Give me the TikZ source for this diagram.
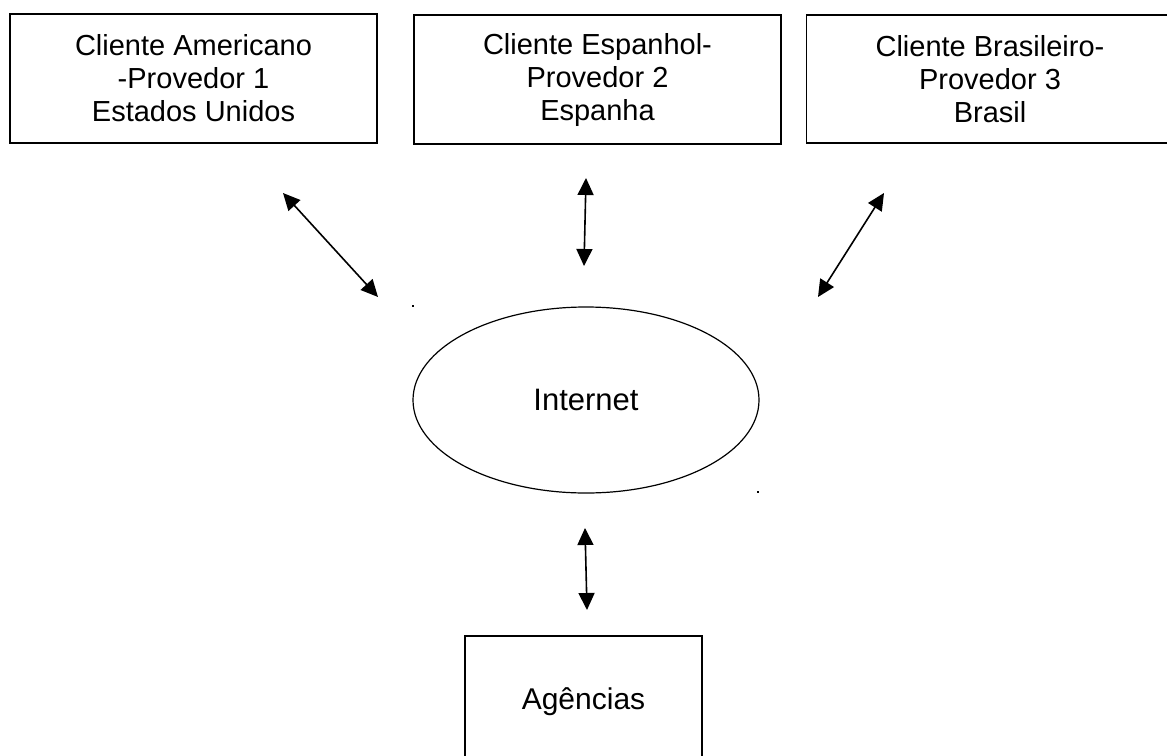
\documentclass[tikz,border=0pt]{standalone}
\usepackage{fontspec}
\setmainfont{Liberation Sans}
\usetikzlibrary{arrows.meta,shapes.geometric}
\tikzset{
  box/.style={draw, line width=1.3pt, rectangle, align=center, font=\fontsize{29}{33}\selectfont, inner sep=0pt},
  cloud/.style={draw, line width=1.2pt, ellipse, inner sep=0pt, font=\fontsize{31}{33}\selectfont},
  link/.style={line width=1.6pt, {Triangle[length=17pt,width=16pt]}-{Triangle[length=17pt,width=16pt]}},
  speck/.style={fill=black, inner sep=0pt, minimum size=2.2pt, rectangle}
}
\begin{document}
\begin{tikzpicture}[x=1pt,y=-1pt]
\useasboundingbox (0,0) rectangle (1167,755);
\clip (0,0) rectangle (1167,755);
\fill[white] (0,0) rectangle (1167,755);
\node[box, minimum width=367pt, minimum height=129pt] (us) at (193.5,78.5) {Cliente Americano\\-Provedor 1\\Estados Unidos};
\node[box, minimum width=367pt, minimum height=129pt] (es) at (597.5,79.5) {Cliente Espanhol-\\Provedor 2\\Espanha};
\node[box, minimum width=367pt, minimum height=128pt] (br) at (990,79) {Cliente Brasileiro-\\Provedor 3\\Brasil};
\node[cloud, minimum width=346pt, minimum height=186pt] (net) at (586,400) {Internet};
\node[box, minimum width=237pt, minimum height=132pt, font=\fontsize{30}{33}\selectfont] (ag) at (583.5,702) {Agências};
\coordinate (a1s) at (283,193); \coordinate (a1e) at (378,297);
\coordinate (a2s) at (586,178); \coordinate (a2e) at (584,266);
\coordinate (a3s) at (884,193); \coordinate (a3e) at (818,297);
\coordinate (a4s) at (585,528); \coordinate (a4e) at (587,610);
\draw[link] (a1s) -- (a1e);
\draw[link] (a2s) -- (a2e);
\draw[link] (a3s) -- (a3e);
\draw[link] (a4s) -- (a4e);
\node[speck] (d1) at (413,306) {};
\node[speck] (d2) at (758,492) {};
\end{tikzpicture}
\end{document}
